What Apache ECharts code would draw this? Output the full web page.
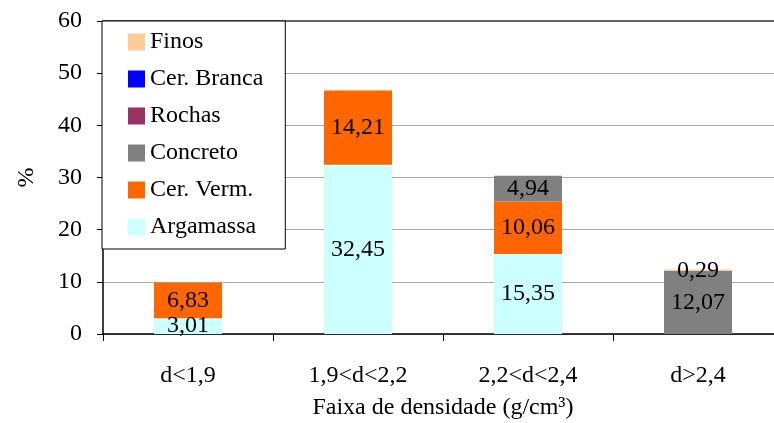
<!DOCTYPE html>
<html>
<head>
<meta charset="utf-8">
<script src="https://cdn.jsdelivr.net/npm/echarts@6/dist/echarts.min.js"></script>
<style>
    html, body { margin: 0; padding: 0; background: #fff; }
    #chart { width: 774px; height: 423px; }
</style>
</head>
<body>
<div id="chart"></div>
<script>
// faixas de densidade
const categories = ['d<1,9', '1,9<d<2,2', '2,2<d<2,4', 'd>2,4'];
// valores em %, de baixo para cima
const argamassa = [3.01, 32.45, 15.35, 0];
const cerVerm = [6.83, 14.21, 10.06, 0];
const concreto = [0, 0, 4.94, 12.07];
const rochas = [0, 0, 0, 0];
const cerBranca = [0, 0, 0, 0];
const finos = [0, 0, 0, 0.29];
const legendOrder = ['Finos', 'Cer. Branca', 'Rochas', 'Concreto', 'Cer. Verm.', 'Argamassa'];

const FONT = 'Liberation Serif';
const chart = echarts.init(document.getElementById('chart'));

function stackSeries(name, data, color) {
    return {
        name: name,
        type: 'bar',
        stack: 'total',
        data: data,
        barWidth: '40%',
        itemStyle: { color: color },
        label: {
            show: true,
            position: 'inside',
            color: '#000',
            fontFamily: FONT,
            fontSize: 24,
            formatter: function (p) {
                return p.value ? p.value.toFixed(2).replace('.', ',') : '';
            }
        }
    };
}

const option = {
    backgroundColor: '#fff',
    animation: false,
    grid: {
        left: 103,
        top: 21,
        width: 680,
        height: 313,
        outerBoundsMode: 'none'
    },
    legend: {
        data: legendOrder,
        orient: 'vertical',
        left: 102,
        top: 21,
        padding: [9, 22, 10, 26],
        itemWidth: 17,
        itemHeight: 17,
        itemGap: 13,
        backgroundColor: '#fff',
        borderColor: '#000',
        borderWidth: 1,
        icon: 'rect',
        textStyle: { fontFamily: FONT, fontSize: 24, color: '#000' }
    },
    xAxis: [{
        type: 'category',
        data: categories,
        name: 'Faixa de densidade (g/cm³)',
        nameLocation: 'middle',
        nameGap: 62,
        nameTextStyle: { fontFamily: FONT, fontSize: 24, color: '#000' },
        axisLine: { lineStyle: { color: '#000', width: 1.5 } },
        axisTick: { show: true, length: 7, lineStyle: { color: '#000' } },
        axisLabel: { margin: 30, fontFamily: FONT, fontSize: 24, color: '#000' }
    }, {
        // borda superior da área do gráfico
        type: 'category',
        data: categories,
        position: 'top',
        axisLine: { lineStyle: { color: '#666', width: 2 } },
        axisTick: { show: false },
        axisLabel: { show: false }
    }],
    yAxis: {
        type: 'value',
        min: 0,
        max: 60,
        interval: 10,
        name: '%',
        nameLocation: 'middle',
        nameGap: 64,
        nameTextStyle: { fontFamily: FONT, fontSize: 24, color: '#000' },
        axisLine: { show: true, lineStyle: { color: '#000', width: 1.5 } },
        axisTick: { show: true, length: 6, lineStyle: { color: '#000' } },
        axisLabel: { margin: 21, fontFamily: FONT, fontSize: 24, color: '#000' },
        splitLine: { show: true, lineStyle: { color: '#a8a8a8', width: 1 } }
    },
    series: [
        stackSeries('Argamassa', argamassa, '#CCFFFF'),
        stackSeries('Cer. Verm.', cerVerm, '#FF6600'),
        stackSeries('Concreto', concreto, '#808080'),
        stackSeries('Rochas', rochas, '#993366'),
        stackSeries('Cer. Branca', cerBranca, '#0000FF'),
        stackSeries('Finos', finos, '#FFCC99')
    ]
};

chart.setOption(option);
</script>
</body>
</html>
